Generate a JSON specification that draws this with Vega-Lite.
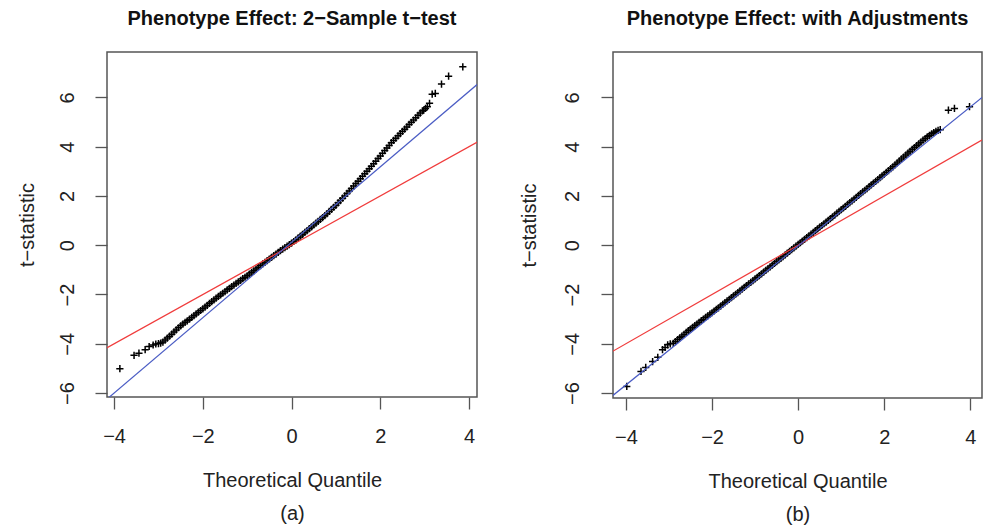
{
  "$schema": "https://vega.github.io/schema/vega-lite/v6.json",
  "padding": {"left": 16, "top": 8, "right": 2, "bottom": 2},
  "bounds": "flush",
  "spacing": 136,
  "background": "white",
  "config": {
    "font": "Liberation Sans",
    "view": {"stroke": "#555555", "strokeWidth": 1.5},
    "axis": {"domain": false, "grid": false, "tickSize": 12, "tickColor": "#555555", "tickWidth": 1.3, "labelFontSize": 20, "labelColor": "#222222", "titleFontSize": 20, "titleFontWeight": "normal", "titleColor": "#222222", "labelFont": "Liberation Sans", "titleFont": "Liberation Sans"},
    "title": {"fontSize": 20, "fontWeight": "bold", "color": "#111111", "font": "Liberation Sans"}
  },
  "datasets": {
    "ptsA": [
      {"q": -3.87, "t": -5.01}, {"q": -3.55, "t": -4.47}, {"q": -3.44, "t": -4.38}, {"q": -3.30, "t": -4.24}, {"q": -3.21, "t": -4.11}, {"q": -3.12, "t": -4.05}, {"q": -3.06, "t": -4.01}, {"q": -3.00, "t": -3.99}, {"q": -2.95, "t": -3.97},
      {"q": -2.90, "t": -3.93}, {"q": -2.85, "t": -3.85}, {"q": -2.80, "t": -3.77}, {"q": -2.75, "t": -3.69}, {"q": -2.70, "t": -3.61}, {"q": -2.65, "t": -3.52}, {"q": -2.60, "t": -3.44}, {"q": -2.55, "t": -3.35}, {"q": -2.50, "t": -3.27}, {"q": -2.45, "t": -3.20},
      {"q": -2.40, "t": -3.13}, {"q": -2.35, "t": -3.07}, {"q": -2.30, "t": -3.00}, {"q": -2.25, "t": -2.93}, {"q": -2.20, "t": -2.86}, {"q": -2.15, "t": -2.79}, {"q": -2.10, "t": -2.72}, {"q": -2.05, "t": -2.65}, {"q": -2.00, "t": -2.58}, {"q": -1.95, "t": -2.51},
      {"q": -1.90, "t": -2.44}, {"q": -1.85, "t": -2.36}, {"q": -1.80, "t": -2.29}, {"q": -1.75, "t": -2.22}, {"q": -1.70, "t": -2.15}, {"q": -1.65, "t": -2.08}, {"q": -1.60, "t": -2.02}, {"q": -1.55, "t": -1.95}, {"q": -1.50, "t": -1.88}, {"q": -1.45, "t": -1.81},
      {"q": -1.40, "t": -1.75}, {"q": -1.35, "t": -1.68}, {"q": -1.30, "t": -1.62}, {"q": -1.25, "t": -1.55}, {"q": -1.20, "t": -1.49}, {"q": -1.15, "t": -1.43}, {"q": -1.10, "t": -1.36}, {"q": -1.05, "t": -1.30}, {"q": -1.00, "t": -1.24}, {"q": -0.95, "t": -1.17},
      {"q": -0.90, "t": -1.10}, {"q": -0.85, "t": -1.04}, {"q": -0.80, "t": -0.97}, {"q": -0.75, "t": -0.90}, {"q": -0.70, "t": -0.83}, {"q": -0.65, "t": -0.76}, {"q": -0.60, "t": -0.70}, {"q": -0.55, "t": -0.63}, {"q": -0.50, "t": -0.56}, {"q": -0.45, "t": -0.49},
      {"q": -0.40, "t": -0.42}, {"q": -0.35, "t": -0.36}, {"q": -0.30, "t": -0.29}, {"q": -0.25, "t": -0.22}, {"q": -0.20, "t": -0.16}, {"q": -0.15, "t": -0.10}, {"q": -0.10, "t": -0.04}, {"q": -0.05, "t": 0.02}, {"q": 0.00, "t": 0.08}, {"q": 0.05, "t": 0.15},
      {"q": 0.10, "t": 0.22}, {"q": 0.15, "t": 0.30}, {"q": 0.20, "t": 0.37}, {"q": 0.25, "t": 0.44}, {"q": 0.30, "t": 0.52}, {"q": 0.35, "t": 0.59}, {"q": 0.40, "t": 0.67}, {"q": 0.45, "t": 0.74}, {"q": 0.50, "t": 0.82}, {"q": 0.55, "t": 0.90},
      {"q": 0.60, "t": 0.97}, {"q": 0.65, "t": 1.05}, {"q": 0.70, "t": 1.12}, {"q": 0.75, "t": 1.20}, {"q": 0.80, "t": 1.28}, {"q": 0.85, "t": 1.37}, {"q": 0.90, "t": 1.45}, {"q": 0.95, "t": 1.54}, {"q": 1.00, "t": 1.62}, {"q": 1.05, "t": 1.72},
      {"q": 1.10, "t": 1.81}, {"q": 1.15, "t": 1.91}, {"q": 1.20, "t": 2.00}, {"q": 1.25, "t": 2.10}, {"q": 1.30, "t": 2.20}, {"q": 1.35, "t": 2.30}, {"q": 1.40, "t": 2.40}, {"q": 1.45, "t": 2.50}, {"q": 1.50, "t": 2.60}, {"q": 1.55, "t": 2.70},
      {"q": 1.60, "t": 2.80}, {"q": 1.65, "t": 2.90}, {"q": 1.70, "t": 3.00}, {"q": 1.75, "t": 3.10}, {"q": 1.80, "t": 3.20}, {"q": 1.85, "t": 3.31}, {"q": 1.90, "t": 3.41}, {"q": 1.95, "t": 3.52}, {"q": 2.00, "t": 3.62}, {"q": 2.05, "t": 3.73},
      {"q": 2.10, "t": 3.84}, {"q": 2.15, "t": 3.94}, {"q": 2.20, "t": 4.05}, {"q": 2.25, "t": 4.16}, {"q": 2.30, "t": 4.25}, {"q": 2.35, "t": 4.34}, {"q": 2.40, "t": 4.44}, {"q": 2.45, "t": 4.53}, {"q": 2.50, "t": 4.62}, {"q": 2.55, "t": 4.71},
      {"q": 2.60, "t": 4.80}, {"q": 2.65, "t": 4.90}, {"q": 2.70, "t": 4.99}, {"q": 2.75, "t": 5.08}, {"q": 2.80, "t": 5.17}, {"q": 2.85, "t": 5.27}, {"q": 2.90, "t": 5.36}, {"q": 2.95, "t": 5.45},
      {"q": 2.98, "t": 5.48}, {"q": 3.02, "t": 5.55}, {"q": 3.06, "t": 5.62}, {"q": 3.11, "t": 5.76}, {"q": 3.17, "t": 6.13}, {"q": 3.24, "t": 6.16}, {"q": 3.38, "t": 6.54}, {"q": 3.54, "t": 6.86}, {"q": 3.86, "t": 7.24}
    ],
    "ptsB": [
      {"q": -3.98, "t": -5.73}, {"q": -3.65, "t": -5.12}, {"q": -3.54, "t": -4.96}, {"q": -3.38, "t": -4.72}, {"q": -3.26, "t": -4.55}, {"q": -3.15, "t": -4.24}, {"q": -3.09, "t": -4.15}, {"q": -3.03, "t": -4.04}, {"q": -2.97, "t": -4.00},
      {"q": -2.90, "t": -3.98}, {"q": -2.85, "t": -3.91}, {"q": -2.80, "t": -3.83}, {"q": -2.75, "t": -3.76}, {"q": -2.70, "t": -3.69}, {"q": -2.65, "t": -3.62}, {"q": -2.60, "t": -3.54}, {"q": -2.55, "t": -3.47}, {"q": -2.50, "t": -3.40}, {"q": -2.45, "t": -3.33},
      {"q": -2.40, "t": -3.26}, {"q": -2.35, "t": -3.20}, {"q": -2.30, "t": -3.13}, {"q": -2.25, "t": -3.06}, {"q": -2.20, "t": -3.00}, {"q": -2.15, "t": -2.93}, {"q": -2.10, "t": -2.87}, {"q": -2.05, "t": -2.80}, {"q": -2.00, "t": -2.74}, {"q": -1.95, "t": -2.67},
      {"q": -1.90, "t": -2.60}, {"q": -1.85, "t": -2.54}, {"q": -1.80, "t": -2.47}, {"q": -1.75, "t": -2.40}, {"q": -1.70, "t": -2.33}, {"q": -1.65, "t": -2.26}, {"q": -1.60, "t": -2.20}, {"q": -1.55, "t": -2.13}, {"q": -1.50, "t": -2.06}, {"q": -1.45, "t": -1.99},
      {"q": -1.40, "t": -1.92}, {"q": -1.35, "t": -1.85}, {"q": -1.30, "t": -1.78}, {"q": -1.25, "t": -1.71}, {"q": -1.20, "t": -1.64}, {"q": -1.15, "t": -1.57}, {"q": -1.10, "t": -1.51}, {"q": -1.05, "t": -1.44}, {"q": -1.00, "t": -1.37}, {"q": -0.95, "t": -1.30},
      {"q": -0.90, "t": -1.23}, {"q": -0.85, "t": -1.16}, {"q": -0.80, "t": -1.09}, {"q": -0.75, "t": -1.02}, {"q": -0.70, "t": -0.95}, {"q": -0.65, "t": -0.88}, {"q": -0.60, "t": -0.81}, {"q": -0.55, "t": -0.74}, {"q": -0.50, "t": -0.67}, {"q": -0.45, "t": -0.60},
      {"q": -0.40, "t": -0.53}, {"q": -0.35, "t": -0.46}, {"q": -0.30, "t": -0.39}, {"q": -0.25, "t": -0.32}, {"q": -0.20, "t": -0.25}, {"q": -0.15, "t": -0.18}, {"q": -0.10, "t": -0.11}, {"q": -0.05, "t": -0.04}, {"q": 0.00, "t": 0.03}, {"q": 0.05, "t": 0.10},
      {"q": 0.10, "t": 0.17}, {"q": 0.15, "t": 0.24}, {"q": 0.20, "t": 0.31}, {"q": 0.25, "t": 0.38}, {"q": 0.30, "t": 0.45}, {"q": 0.35, "t": 0.52}, {"q": 0.40, "t": 0.59}, {"q": 0.45, "t": 0.66}, {"q": 0.50, "t": 0.73}, {"q": 0.55, "t": 0.80},
      {"q": 0.60, "t": 0.87}, {"q": 0.65, "t": 0.94}, {"q": 0.70, "t": 1.01}, {"q": 0.75, "t": 1.08}, {"q": 0.80, "t": 1.15}, {"q": 0.85, "t": 1.22}, {"q": 0.90, "t": 1.30}, {"q": 0.95, "t": 1.37}, {"q": 1.00, "t": 1.44}, {"q": 1.05, "t": 1.51},
      {"q": 1.10, "t": 1.58}, {"q": 1.15, "t": 1.66}, {"q": 1.20, "t": 1.73}, {"q": 1.25, "t": 1.80}, {"q": 1.30, "t": 1.87}, {"q": 1.35, "t": 1.94}, {"q": 1.40, "t": 2.02}, {"q": 1.45, "t": 2.09}, {"q": 1.50, "t": 2.16}, {"q": 1.55, "t": 2.23},
      {"q": 1.60, "t": 2.30}, {"q": 1.65, "t": 2.38}, {"q": 1.70, "t": 2.45}, {"q": 1.75, "t": 2.52}, {"q": 1.80, "t": 2.59}, {"q": 1.85, "t": 2.66}, {"q": 1.90, "t": 2.74}, {"q": 1.95, "t": 2.81}, {"q": 2.00, "t": 2.88}, {"q": 2.05, "t": 2.96},
      {"q": 2.10, "t": 3.03}, {"q": 2.15, "t": 3.11}, {"q": 2.20, "t": 3.18}, {"q": 2.25, "t": 3.26}, {"q": 2.30, "t": 3.34}, {"q": 2.35, "t": 3.42}, {"q": 2.40, "t": 3.50}, {"q": 2.45, "t": 3.58}, {"q": 2.50, "t": 3.66}, {"q": 2.55, "t": 3.74},
      {"q": 2.60, "t": 3.81}, {"q": 2.65, "t": 3.89}, {"q": 2.70, "t": 3.96}, {"q": 2.75, "t": 4.04}, {"q": 2.80, "t": 4.11}, {"q": 2.85, "t": 4.18}, {"q": 2.90, "t": 4.26}, {"q": 2.95, "t": 4.33}, {"q": 3.00, "t": 4.40}, {"q": 3.05, "t": 4.46},
      {"q": 3.10, "t": 4.52}, {"q": 3.15, "t": 4.57}, {"q": 3.20, "t": 4.62}, {"q": 3.25, "t": 4.66}, {"q": 3.30, "t": 4.69},
      {"q": 3.49, "t": 5.48}, {"q": 3.63, "t": 5.55}, {"q": 3.98, "t": 5.62}
    ],
    "redLine": [{"q": -4.6, "t": -4.6}, {"q": 4.6, "t": 4.6}],
    "blueA": [{"q": -4.6, "t": -6.918}, {"q": 4.6, "t": 7.158}],
    "blueB": [{"q": -4.6, "t": -6.516}, {"q": 4.6, "t": 6.456}]
  },
  "hconcat": [
    {
      "width": 370,
      "height": 345,
      "title": {"text": "Phenotype Effect: 2−Sample t−test", "anchor": "middle", "baseline": "alphabetic", "offset": 7},
      "encoding": {
        "x": {"field": "q", "type": "quantitative", "scale": {"domain": [-4.16, 4.18], "nice": false, "zero": false},
              "axis": {"values": [-4, -2, 0, 2, 4], "labelBaseline": "alphabetic", "labelPadding": 33, "title": ["Theoretical Quantile", "(a)"], "titleBaseline": "alphabetic", "titleLineHeight": 33, "titleX": 185, "titleY": 89, "titleAlign": "center"}},
        "y": {"field": "t", "type": "quantitative", "scale": {"domain": [-6.16, 7.84], "nice": false, "zero": false},
              "axis": {"values": [-6, -4, -2, 0, 2, 4, 6], "labelAngle": 270, "labelAlign": "center", "labelBaseline": "alphabetic", "labelPadding": 22, "title": "t−statistic", "titleAngle": 270, "titleBaseline": "alphabetic", "titleAlign": "center", "titleX": -74, "titleY": 172.5}}
      },
      "layer": [
        {"data": {"name": "ptsA"}, "mark": {"type": "point", "shape": "M-1,0H1M0,-1V1", "size": 52, "filled": false, "stroke": "#000000", "strokeWidth": 1.5, "opacity": 1}},
        {"data": {"name": "redLine"}, "mark": {"type": "line", "color": "#f03c3c", "strokeWidth": 1.2, "clip": true}},
        {"data": {"name": "blueA"}, "mark": {"type": "line", "color": "#4a5cc4", "strokeWidth": 1.2, "clip": true}}
      ]
    },
    {
      "width": 369,
      "height": 346,
      "title": {"text": "Phenotype Effect: with Adjustments", "anchor": "middle", "baseline": "alphabetic", "offset": 7},
      "encoding": {
        "x": {"field": "q", "type": "quantitative", "scale": {"domain": [-4.3, 4.27], "nice": false, "zero": false},
              "axis": {"values": [-4, -2, 0, 2, 4], "labelBaseline": "alphabetic", "labelPadding": 33, "title": ["Theoretical Quantile", "(b)"], "titleBaseline": "alphabetic", "titleLineHeight": 33, "titleX": 184.5, "titleY": 89, "titleAlign": "center"}},
        "y": {"field": "t", "type": "quantitative", "scale": {"domain": [-6.2, 7.84], "nice": false, "zero": false},
              "axis": {"values": [-6, -4, -2, 0, 2, 4, 6], "labelAngle": 270, "labelAlign": "center", "labelBaseline": "alphabetic", "labelPadding": 23, "title": "t−statistic", "titleAngle": 270, "titleBaseline": "alphabetic", "titleAlign": "center", "titleX": -78, "titleY": 173}}
      },
      "layer": [
        {"data": {"name": "ptsB"}, "mark": {"type": "point", "shape": "M-1,0H1M0,-1V1", "size": 52, "filled": false, "stroke": "#000000", "strokeWidth": 1.5, "opacity": 1}},
        {"data": {"name": "redLine"}, "mark": {"type": "line", "color": "#f03c3c", "strokeWidth": 1.2, "clip": true}},
        {"data": {"name": "blueB"}, "mark": {"type": "line", "color": "#4a5cc4", "strokeWidth": 1.2, "clip": true}}
      ]
    }
  ]
}
